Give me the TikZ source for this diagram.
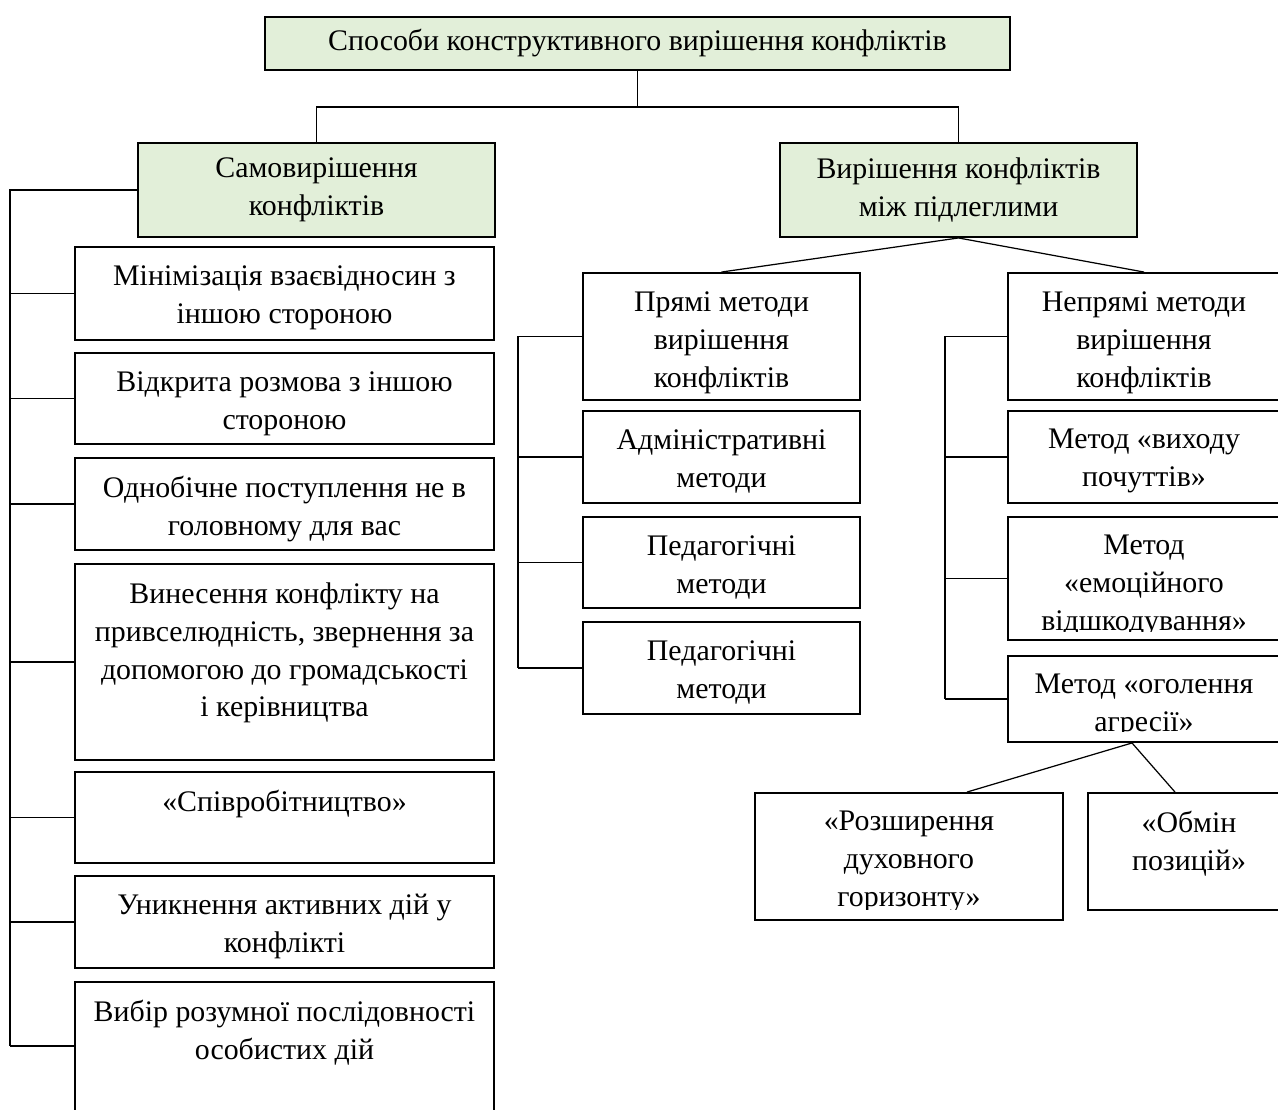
\documentclass[tikz,border=0pt]{standalone}
\usepackage{fontspec}
\setmainfont{Liberation Serif}
\usepackage{tikz}
\usetikzlibrary{positioning}
\definecolor{grnfill}{HTML}{E2EFD9}

\begin{document}
\begin{tikzpicture}[x=0.02cm, y=-0.02cm,
  every node/.style={font=\fontsize{17}{21.6}\selectfont},
  gbox/.style={rectangle, draw=black, line width=1.1pt, fill=grnfill, align=center, inner sep=0pt},
  wbox/.style={rectangle, draw=black, line width=1.1pt, fill=white, inner sep=0pt},
  txt/.style={align=center, inner sep=0pt},
  ln/.style={line width=0.7pt, black}
]
  \clip (0,0) rectangle (1278,1109);
  % ---- top level ----
  \node[gbox, minimum width=14.9cm, minimum height=1.06cm] (top) at (637.5,43.5)
        {Способи конструктивного вирішення конфліктів};
  \node[gbox, minimum width=7.14cm, minimum height=1.88cm] (lg) at (316.5,190)
        {Самовирішення\\конфліктів};
  \node[gbox, minimum width=7.14cm, minimum height=1.88cm] (rg) at (958.5,190)
        {Вирішення конфліктів\\між підлеглими};
  \coordinate (split) at (637.5,107);
  \draw[ln] (top.south) -- (split);
  \draw[ln] (lg.north) |- (split) -| (rg.north);

  % ---- left column ----
  \node[wbox, minimum width=8.38cm, minimum height=1.86cm] (m1) at (284.5,293.5) {};
  \node[wbox, minimum width=8.38cm, minimum height=1.82cm] (m2) at (284.5,398.5) {};
  \node[wbox, minimum width=8.38cm, minimum height=1.84cm] (m3) at (284.5,504) {};
  \node[wbox, minimum width=8.38cm, minimum height=3.92cm] (m4) at (284.5,662) {};
  \node[wbox, minimum width=8.38cm, minimum height=1.82cm] (m5) at (284.5,817.5) {};
  \node[wbox, minimum width=8.38cm, minimum height=1.84cm] (m6) at (284.5,922) {};
  \node[wbox, minimum width=8.38cm, minimum height=2.64cm] (m7) at (284.5,1048) {};
  \node[txt, below=0.38cm of m1.north] (m1t) {Мінімізація взаєвідносин з\\іншою стороною};
  \node[txt, below=0.38cm of m2.north] (m2t) {Відкрита розмова з іншою\\стороною};
  \node[txt, below=0.38cm of m3.north] (m3t) {Однобічне поступлення не в\\головному для вас};
  \node[txt, below=0.38cm of m4.north] (m4t) {Винесення конфлікту на\\привселюдність, звернення за\\допомогою до громадськості\\і керівництва};
  \node[txt, below=0.38cm of m5.north] (m5t) {«Співробітництво»};
  \node[txt, below=0.38cm of m6.north] (m6t) {Уникнення активних дій у\\конфлікті};
  \node[txt, below=0.38cm of m7.north] (m7t) {Вибір розумної послідовності\\особистих дій};
  \coordinate (lbus) at (10,1046);
  \draw[ln] (lg.west) -| (lbus);
  \foreach \b in {m1,m2,m3,m4,m5,m6}
    \draw[ln] (\b.west) -- (\b.west -| lbus);
  \draw[ln] (lbus) -- (lbus -| m7.west);

  % ---- direct methods ----
  \node[wbox, minimum width=5.54cm, minimum height=2.54cm] (p1) at (721.5,336.5) {};
  \node[wbox, minimum width=5.54cm, minimum height=1.84cm] (p2) at (721.5,457) {};
  \node[wbox, minimum width=5.54cm, minimum height=1.82cm] (p3) at (721.5,562.5) {};
  \node[wbox, minimum width=5.54cm, minimum height=1.84cm] (p4) at (721.5,668) {};
  \node[txt, below=0.38cm of p1.north] (p1t) {Прямі методи\\вирішення\\конфліктів};
  \node[txt, below=0.38cm of p2.north] (p2t) {Адміністративні\\методи};
  \node[txt, below=0.38cm of p3.north] (p3t) {Педагогічні\\методи};
  \node[txt, below=0.38cm of p4.north] (p4t) {Педагогічні\\методи};
  \coordinate (mbus) at (518,668);
  \draw[ln] (p1.west) -| (mbus);
  \foreach \b in {p2,p3,p4}
    \draw[ln] (\b.west) -- (\b.west -| mbus);

  % ---- indirect methods ----
  \node[wbox, minimum width=5.44cm, minimum height=2.54cm] (n1) at (1144,336.5) {};
  \node[wbox, minimum width=5.44cm, minimum height=1.84cm] (n2) at (1144,457) {};
  \node[wbox, minimum width=5.44cm, minimum height=2.46cm] (n3) at (1144,578.5) {};
  \node[wbox, minimum width=5.44cm, minimum height=1.72cm] (n4) at (1144,699) {};
  \node[txt, below=0.38cm of n1.north] (n1t) {Непрямі методи\\вирішення\\конфліктів};
  \node[txt, below=0.38cm of n2.north] (n2t) {Метод «виходу\\почуттів»};
  \begin{scope}
    \clip (n3.north west) rectangle ([yshift=0.18cm]n3.south east);
    \node[txt, below=0.38cm of n3.north] (n3t) {Метод\\«емоційного\\відшкодування»};
  \end{scope}
  \begin{scope}
    \clip (n4.north west) rectangle ([yshift=0.22cm]n4.south east);
    \node[txt, below=0.38cm of n4.north] (n4t) {Метод «оголення\\агресії»};
  \end{scope}
  \coordinate (nbus) at (945,699);
  \draw[ln] (n1.west) -| (nbus);
  \foreach \b in {n2,n3,n4}
    \draw[ln] (\b.west) -- (\b.west -| nbus);
  \draw[ln] (rg.south) -- (p1.north);
  \draw[ln] (rg.south) -- (n1.north);

  % ---- bottom pair ----
  \node[wbox, minimum width=6.16cm, minimum height=2.54cm] (r1) at (909,856.5) {};
  \node[wbox, minimum width=4.04cm, minimum height=2.34cm] (r2) at (1189,851.5) {};
  \begin{scope}
    \clip (r1.north west) rectangle ([yshift=0.22cm]r1.south east);
    \node[txt, below=0.38cm of r1.north] (r1t) {«Розширення\\духовного\\горизонту»};
  \end{scope}
  \node[txt, below=0.38cm of r2.north] (r2t) {«Обмін\\позицій»};
  \draw[ln] ([xshift=-0.24cm]n4.south) -- ([xshift=1.16cm]r1.north);
  \draw[ln] ([xshift=-0.24cm]n4.south) -- ([xshift=-0.28cm]r2.north);
\end{tikzpicture}
\end{document}
